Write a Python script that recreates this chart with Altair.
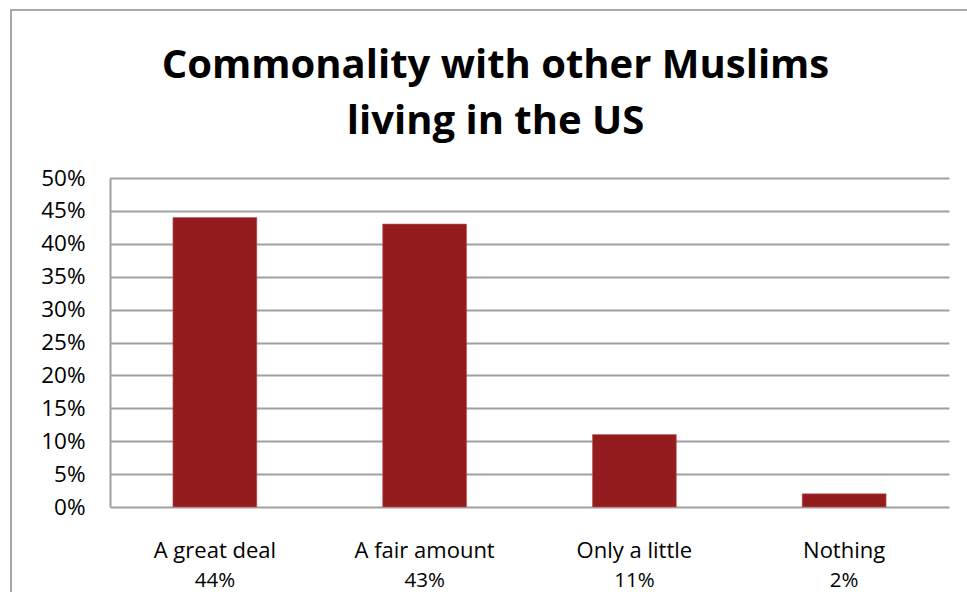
import altair as alt
import pandas as pd

FONT = "Open Sans"

categories = ["A great deal", "A fair amount", "Only a little", "Nothing"]
values = [44, 43, 11, 2]
pct_labels = ["44%", "43%", "11%", "2%"]
y_ticks = [0, 0.05, 0.10, 0.15, 0.20, 0.25, 0.30, 0.35, 0.40, 0.45, 0.50]
title_lines = ["Commonality with other Muslims", "living in the US"]

df = pd.DataFrame({"cat": categories, "val": [v / 100 for v in values], "pct": pct_labels})

x_axis = alt.Axis(title=None, labelAngle=0, ticks=False, domain=False,
                  labelPadding=33, labelFontSize=22, labelFont=FONT,
                  labelColor="black", labelBaseline="top")
y_axis = alt.Axis(title=None, values=y_ticks, format=".0%", ticks=False,
                  labelOverlap=False,
                  domain=True, domainColor="#a0a0a0", domainWidth=2,
                  grid=True, gridColor="#a0a0a0", gridWidth=2,
                  labelPadding=25, labelFontSize=22.5, labelFont=FONT,
                  labelColor="black")
x_scale = alt.Scale(paddingInner=0.6, paddingOuter=0.3)
y_scale = alt.Scale(domain=[0, 0.5], nice=False)

bars = alt.Chart(df).mark_bar(color="#941b1e", stroke="#c06060", strokeWidth=0.6).encode(
    x=alt.X("cat:N", sort=categories, scale=x_scale, axis=x_axis),
    y=alt.Y("val:Q", scale=y_scale, axis=y_axis),
)

pct = alt.Chart(df).mark_text(baseline="top", dy=64, fontSize=20.5, font=FONT, color="black").encode(
    x=alt.X("cat:N", sort=categories, scale=x_scale, axis=x_axis),
    y=alt.Y(datum=0, type="quantitative", scale=y_scale, axis=y_axis),
    text="pct:N",
)

frame = alt.Chart(pd.DataFrame({"a": [0]})).mark_rect(
    filled=False, stroke="#a8a8a8", strokeWidth=2, clip=False
).encode(
    x=alt.value(-99), x2=alt.value(950), y=alt.value(-168), y2=alt.value(500)
)

chart = alt.layer(frame, bars, pct).properties(
    width=839,
    height=329,
    padding={"left": 110, "top": 178, "right": 18, "bottom": 85},
    autosize=alt.AutoSizeParams(type="none"),
    title=alt.Title(title_lines, fontSize=40, font=FONT, fontWeight="bold",
                    color="black", anchor="middle", dx=-34, baseline="bottom",
                    offset=-173, lineHeight=56),
).configure(background="white").configure_view(stroke=None)

chart.save("out.html", embed_options={"renderer": "svg", "actions": False})
